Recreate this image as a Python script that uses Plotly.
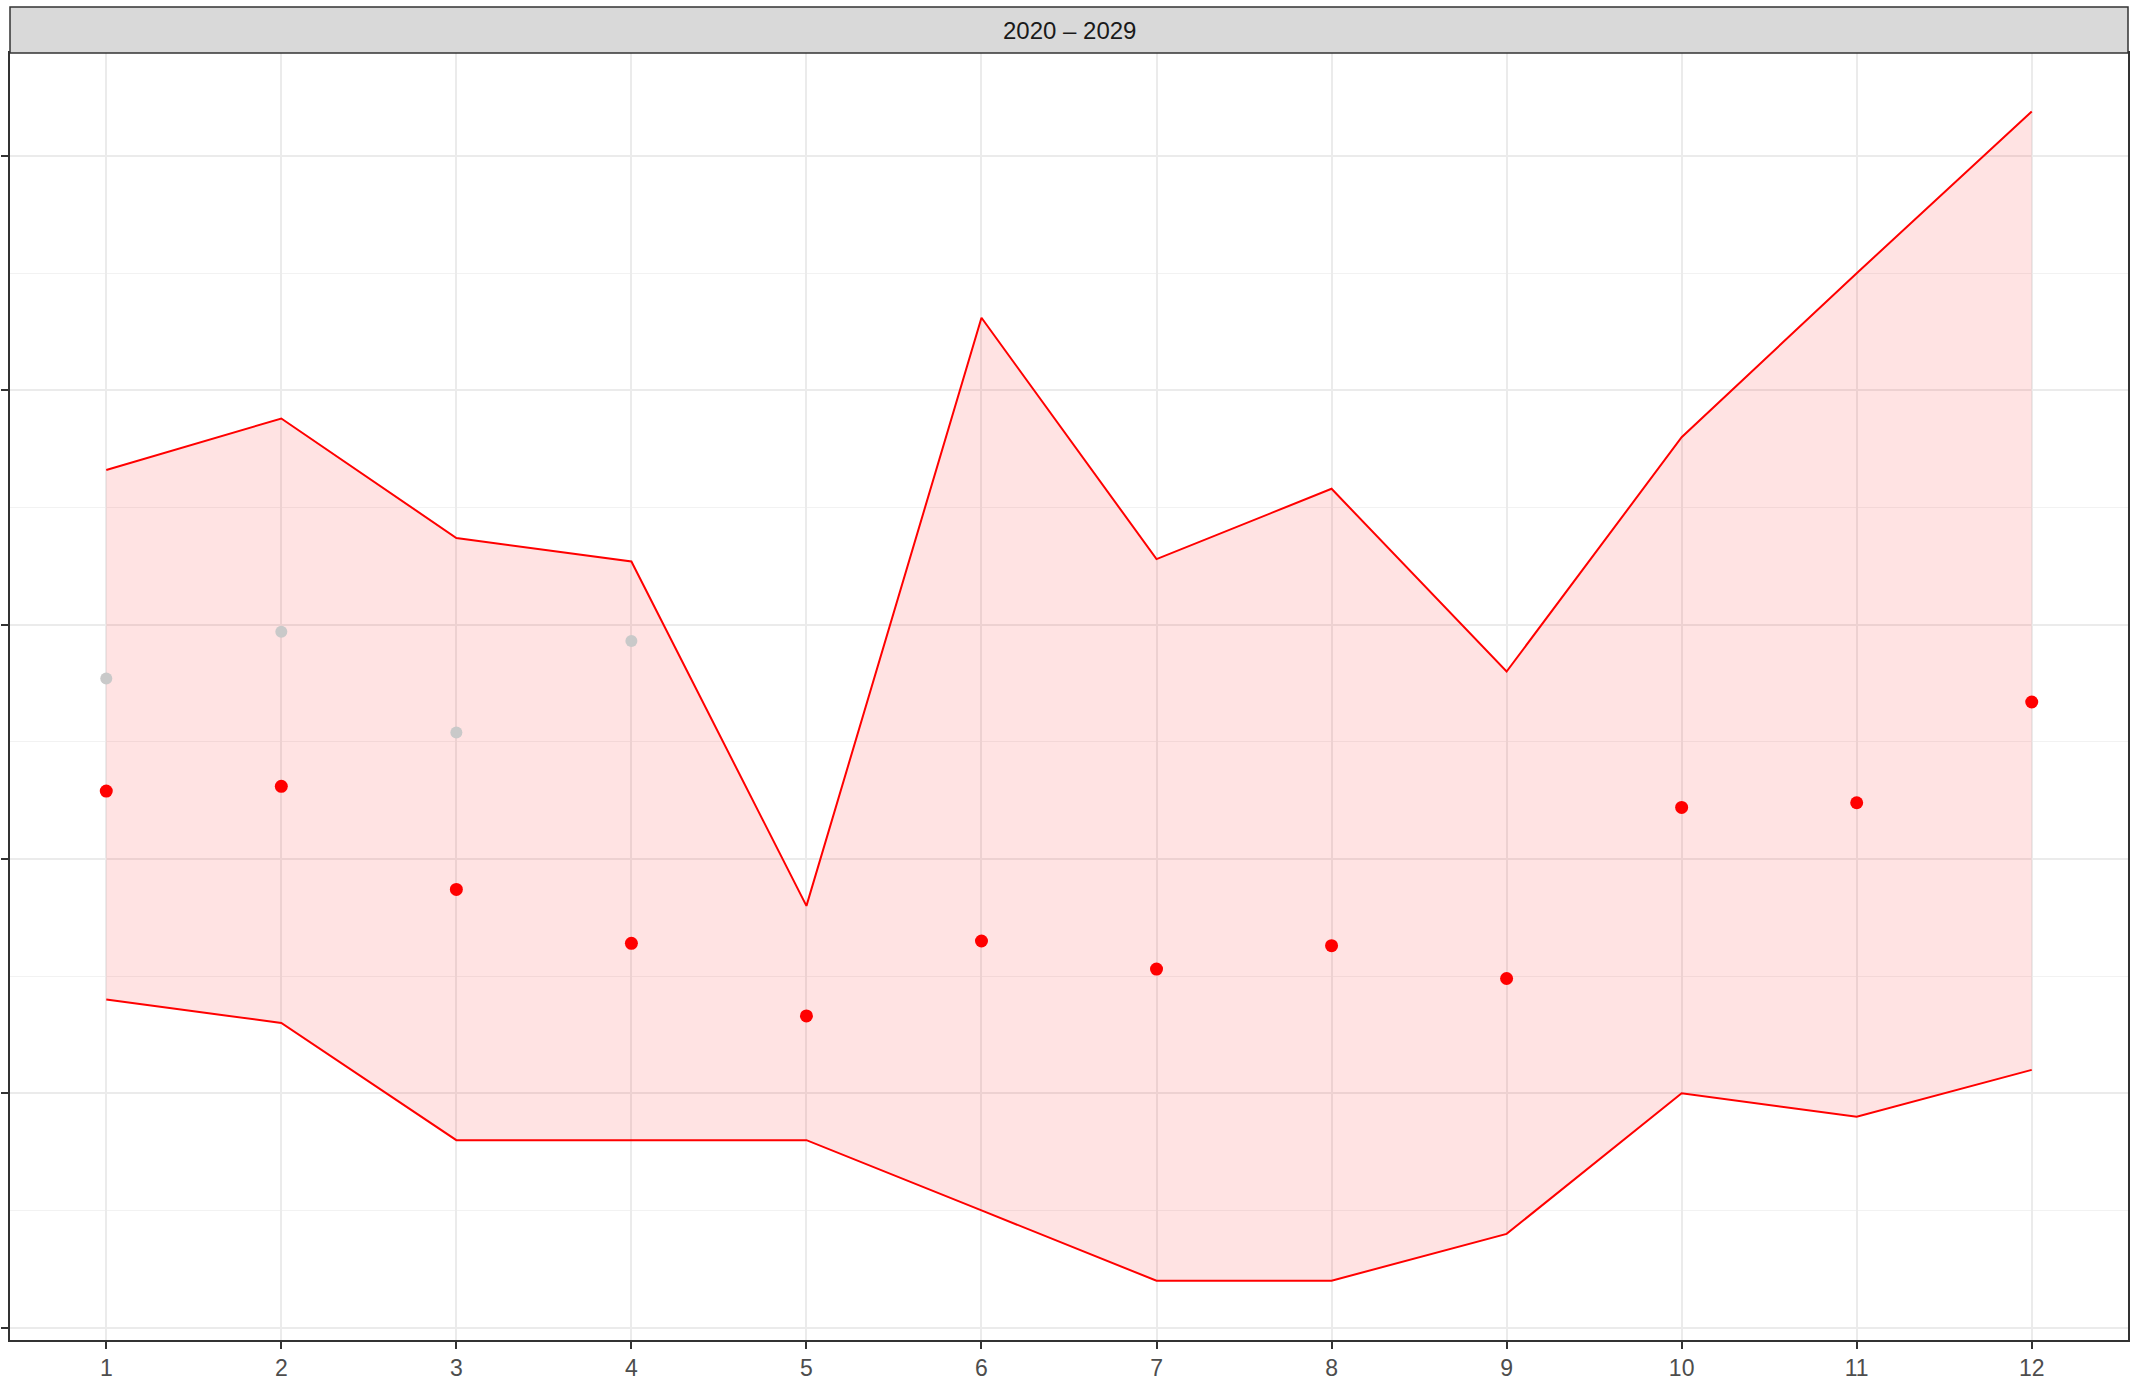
import plotly.graph_objects as go

# data (y in axis units, major gridlines at 0..5)
months = [1, 2, 3, 4, 5, 6, 7, 8, 9, 10, 11, 12]
upper = [3.66, 3.88, 3.37, 3.27, 1.80, 4.31, 3.28, 3.58, 2.80, 3.80, 4.50, 5.19]
lower = [1.40, 1.30, 0.80, 0.80, 0.80, 0.50, 0.20, 0.20, 0.40, 1.00, 0.90, 1.10]
observed = [2.29, 2.31, 1.87, 1.64, 1.33, 1.65, 1.53, 1.63, 1.49, 2.22, 2.24, 2.67]
past_months = [1, 2, 3, 4]
past = [2.77, 2.97, 2.54, 2.93]
strip_label = "2020 – 2029"

RED = "#FF0000"
FONT = "Liberation Sans, Arial, sans-serif"

fig = go.Figure()

# ribbon
fig.add_trace(go.Scatter(
    x=months, y=lower, mode="lines",
    line=dict(color=RED, width=2), hoverinfo="skip", showlegend=False
))
fig.add_trace(go.Scatter(
    x=months, y=upper, mode="lines", fill="tonexty",
    fillcolor="rgba(255,0,0,0.11)",
    line=dict(color=RED, width=2), hoverinfo="skip", showlegend=False
))

# points
fig.add_trace(go.Scatter(
    x=past_months, y=past, mode="markers",
    marker=dict(color="#C9C9C9", size=12), showlegend=False
))
fig.add_trace(go.Scatter(
    x=months, y=observed, mode="markers",
    marker=dict(color=RED, size=13), showlegend=False
))

W, H = 2131, 1382
L, R, T, B = 10, 1, 53, 40
plot_h = H - T - B
strip_h = 46

fig.update_layout(
    width=W, height=H,
    margin=dict(l=L, r=R, t=T, b=B),
    paper_bgcolor="white",
    plot_bgcolor="white",
    font=dict(family=FONT, size=23, color="#4D4D4D"),
    showlegend=False,
    shapes=[dict(
        type="rect", xref="paper", yref="paper",
        x0=0, x1=1, y0=1, y1=1 + strip_h / plot_h,
        fillcolor="#D9D9D9", line=dict(color="#333333", width=1.5),
        layer="above"
    )],
    annotations=[dict(
        text=strip_label, xref="paper", yref="paper",
        x=0.5, y=1 + strip_h / plot_h / 2, showarrow=False,
        xanchor="center", yanchor="middle",
        font=dict(family=FONT, size=24, color="#1A1A1A")
    )],
)

fig.update_xaxes(
    range=[0.45, 12.55],
    tickvals=months,
    ticks="outside", ticklen=7, tickwidth=1.5, tickcolor="#333333",
    showgrid=True, gridcolor="#EBEBEB", gridwidth=2,
    showline=True, linecolor="#333333", linewidth=1.5, mirror=True,
    zeroline=False,
    tickfont=dict(family=FONT, size=23, color="#4D4D4D"),
)
fig.update_yaxes(
    range=[-0.053, 5.44],
    tickvals=[0, 1, 2, 3, 4, 5],
    showticklabels=False,
    ticks="outside", ticklen=7, tickwidth=1.5, tickcolor="#333333",
    showgrid=True, gridcolor="#EBEBEB", gridwidth=2,
    minor=dict(tickvals=[0.5, 1.5, 2.5, 3.5, 4.5], showgrid=True,
               gridcolor="#F2F2F2", gridwidth=1.2, ticks=""),
    showline=True, linecolor="#333333", linewidth=1.5, mirror=True,
    zeroline=False,
)

fig.write_html(
    "out.html",
    config={"displayModeBar": False},
    post_script="document.body.style.margin='0';document.body.style.padding='0';",
)
